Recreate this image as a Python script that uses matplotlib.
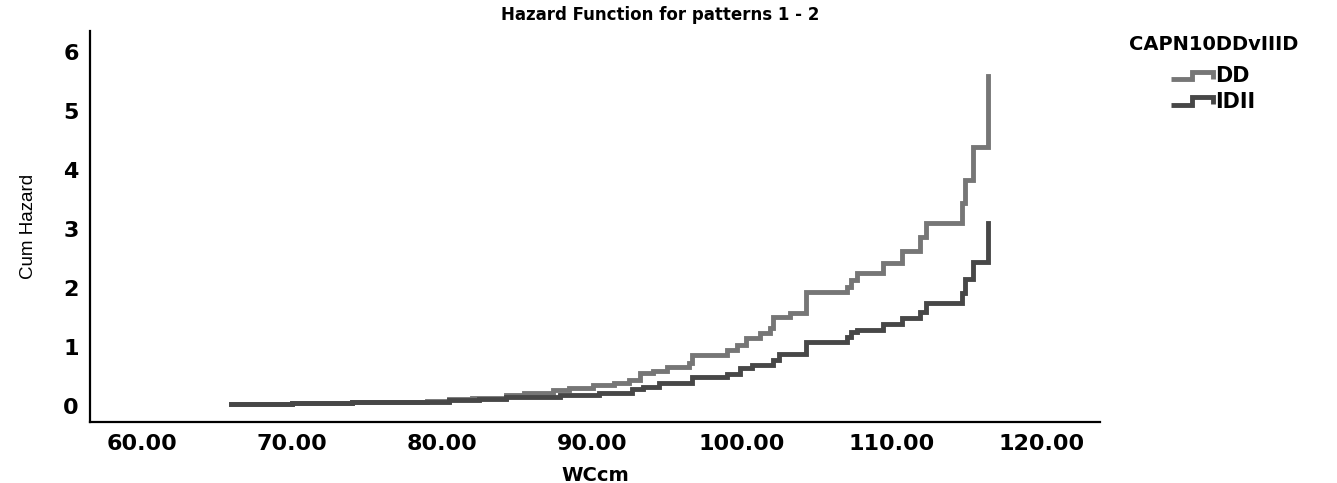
import numpy as np
import matplotlib
matplotlib.use("Agg")
import matplotlib.pyplot as plt
from matplotlib.lines import Line2D
from matplotlib.legend_handler import HandlerBase

# Cumulative hazard by waist circumference (cm), one step series per genotype group
group_names = ["DD", "IDII"]

wc_dd = [65.9, 70.0, 74.0, 77.0, 79.0, 80.5, 82.0, 84.3, 85.5, 87.4, 88.5, 90.1, 91.5,
         92.5, 93.2, 94.1, 95.0, 96.5, 96.7, 99.0, 99.7, 100.3, 101.2, 101.9, 102.1,
         103.2, 104.3, 107.0, 107.3, 107.7, 109.4, 110.7, 111.9, 112.3, 114.7, 114.9,
         115.4, 116.4]
haz_dd = [0.04, 0.05, 0.06, 0.07, 0.09, 0.12, 0.14, 0.18, 0.22, 0.27, 0.30, 0.35, 0.39,
          0.44, 0.56, 0.60, 0.66, 0.73, 0.87, 0.95, 1.04, 1.16, 1.24, 1.33, 1.51,
          1.58, 1.94, 2.02, 2.14, 2.26, 2.43, 2.62, 2.86, 3.11, 3.45, 3.84,
          4.39, 5.60]

wc_idii = [65.9, 70.0, 74.0, 77.0, 80.5, 82.5, 84.3, 87.9, 90.5, 92.7, 93.4, 94.5,
           96.7, 99.0, 99.9, 100.7, 102.1, 102.5, 104.3, 107.0, 107.3, 107.7, 109.4,
           110.7, 111.9, 112.3, 114.7, 114.9, 115.4, 116.4]
haz_idii = [0.04, 0.05, 0.06, 0.07, 0.10, 0.12, 0.15, 0.19, 0.22, 0.29, 0.32, 0.39,
            0.49, 0.54, 0.65, 0.70, 0.78, 0.88, 1.09, 1.17, 1.26, 1.29, 1.39,
            1.50, 1.60, 1.75, 1.92, 2.16, 2.45, 3.11]

x_ticks = [60, 70, 80, 90, 100, 110, 120]
y_ticks = [0, 1, 2, 3, 4, 5, 6]

line_colors = ["#767676", "#474747"]


class StepHandler(HandlerBase):
    """Legend key drawn as a small step line."""

    def create_artists(self, legend, orig_handle, xdescent, ydescent,
                       width, height, fontsize, trans):
        xs = np.array([0.0, 0.5, 0.5, 1.0, 1.0]) * width - xdescent
        ys = np.array([0.2, 0.2, 0.7, 0.7, 0.25]) * height - ydescent
        key = Line2D(xs, ys, color=orig_handle.get_color(),
                     lw=orig_handle.get_linewidth(), transform=trans,
                     solid_joinstyle="miter", solid_capstyle="butt")
        return [key]


fig = plt.figure(figsize=(13.37, 4.83), dpi=100)
ax = fig.add_axes([0.0673, 0.1263, 0.7554, 0.8095])

handles = []
for name, xs, ys, col in zip(group_names, [wc_dd, wc_idii], [haz_dd, haz_idii], line_colors):
    ln, = ax.step(xs, ys, where="post", color=col, lw=3.5, label=name,
                  solid_joinstyle="miter")
    handles.append(ln)

ax.set_xlim(56.53, 123.87)
ax.set_ylim(-0.272, 6.36)
ax.set_xticks(x_ticks)
ax.set_xticklabels([f"{v:.2f}" for v in x_ticks])
ax.set_yticks(y_ticks)
ax.set_yticklabels([str(v) for v in y_ticks])
ax.tick_params(length=0, labelsize=16)
ax.tick_params(axis="x", pad=9)
ax.tick_params(axis="y", pad=8)
for lab in ax.get_xticklabels() + ax.get_yticklabels():
    lab.set_fontweight("bold")

for side in ("top", "right"):
    ax.spines[side].set_visible(False)
for side in ("left", "bottom"):
    ax.spines[side].set_linewidth(1.6)
    ax.spines[side].set_color("black")

ax.set_xlabel("WCcm", fontsize=14, fontweight="bold", labelpad=8)
ax.set_ylabel("Cum Hazard", fontsize=13.5,
              family=["Liberation Sans Narrow", "Liberation Sans"], labelpad=19)
fig.text(0.494, 0.968, "Hazard Function for patterns 1 - 2", ha="center",
         va="center", fontsize=12, fontweight="bold")

leg = fig.legend(handles=handles, labels=group_names,
                 handler_map={Line2D: StepHandler()},
                 loc="upper left", bbox_to_anchor=(0.838, 0.945),
                 frameon=False, title="CAPN10DDvIIID",
                 prop={"size": 15, "weight": "bold"},
                 title_fontproperties={"size": 14, "weight": "bold"},
                 handlelength=2.0, handletextpad=0.1, labelspacing=0.25,
                 borderaxespad=0)
leg._legend_box.align = "center"
leg._legend_box.sep = 9

fig.savefig("out.png", dpi=100)
